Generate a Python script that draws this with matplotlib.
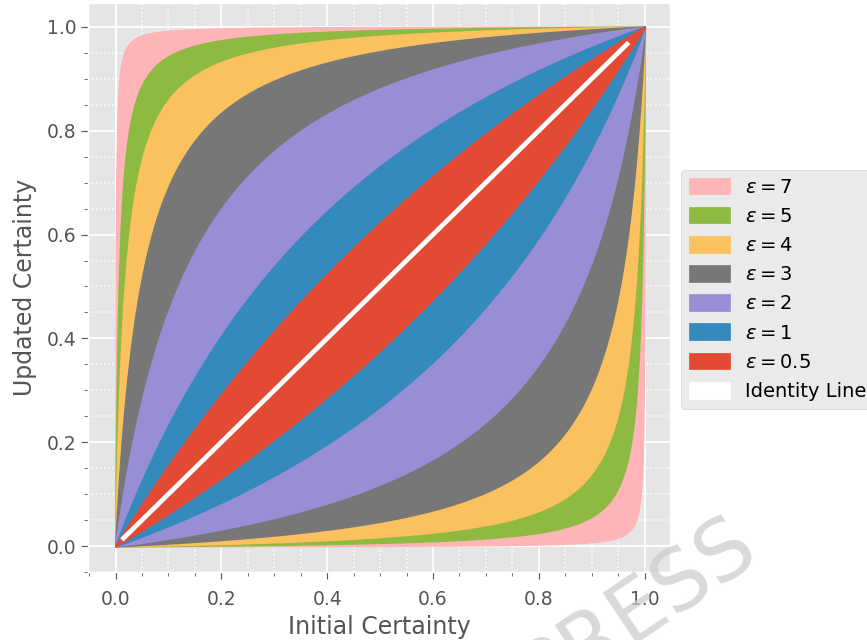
import numpy as np
import matplotlib
matplotlib.use("Agg")
import matplotlib.pyplot as plt
from matplotlib.ticker import MultipleLocator
from matplotlib.patches import Patch

plt.style.use("ggplot")

# data
epsilons = [7, 5, 4, 3, 2, 1, 0.5]
eps_labels = [r"$\epsilon = 7$", r"$\epsilon = 5$", r"$\epsilon = 4$", r"$\epsilon = 3$",
              r"$\epsilon = 2$", r"$\epsilon = 1$", r"$\epsilon = 0.5$"]
colors = ["#FFB5B8", "#8EBA42", "#FBC15E", "#777777", "#988ED5", "#348ABD", "#E24A33"]
ticks = [0.0, 0.2, 0.4, 0.6, 0.8, 1.0]

p = np.linspace(0, 1, 2001)

fig = plt.figure(figsize=(8.67, 6.4), dpi=100)
ax = fig.add_axes([88/867, 68/640, 582/867, 569/640])

handles = []
for eps, lab, c in zip(epsilons, eps_labels, colors):
    e = np.exp(eps)
    upper = p * e / (p * e + (1 - p))
    lower = p / (p + (1 - p) * e)
    ax.fill_between(p, lower, upper, color=c, linewidth=1.5)
    handles.append(Patch(facecolor=c, edgecolor=c, label=lab))

ax.plot([0.012, 0.97], [0.012, 0.97], color="white", linewidth=3.4,
        solid_capstyle="butt")
handles.append(Patch(facecolor="white", edgecolor="white", label="Identity Line"))

ax.set_xlim(-0.052, 1.048)
ax.set_ylim(-0.05, 1.046)
ax.set_xticks(ticks)
ax.set_yticks(ticks)
ax.xaxis.set_minor_locator(MultipleLocator(0.05))
ax.yaxis.set_minor_locator(MultipleLocator(0.05))
ax.grid(True, which="major", color="white", linewidth=1.3)
ax.grid(True, which="minor", color="white", linestyle=":", linewidth=1.1)
ax.set_axisbelow(True)
ax.tick_params(axis="x", which="major", pad=8)
ax.tick_params(axis="both", which="major", labelsize=13.5, colors="#555555", length=5)
ax.tick_params(axis="both", which="minor", length=3, color="#555555")
ax.set_xlabel("Initial Certainty", fontsize=17, color="#555555", labelpad=4)
ax.set_ylabel("Updated Certainty", fontsize=17, color="#555555", labelpad=7)

leg = ax.legend(handles=handles, loc="center left", bbox_to_anchor=(1.019, 0.497),
                borderaxespad=0, fontsize=14, frameon=True, handlelength=2.1,
                handleheight=0.95, labelspacing=0.52, borderpad=0.4, handletextpad=0.78)
leg.get_frame().set_facecolor("#E5E5E5")
leg.get_frame().set_edgecolor("#CCCCCC")
for t in leg.get_texts():
    t.set_color("black")

fig.text(0.736, 0.048, "PRESS", fontsize=60, color="#CCCCCC", alpha=0.75,
         rotation=34, ha="center", va="center", zorder=10)

fig.savefig("out.png", dpi=100)
